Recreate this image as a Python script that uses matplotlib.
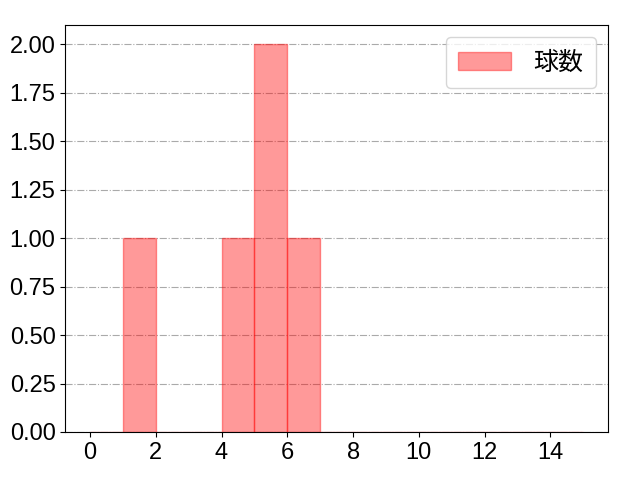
import matplotlib

matplotlib.use("Agg")
import matplotlib.pyplot as plt

plt.rcParams["font.family"] = ["Liberation Sans", "Noto Sans CJK JP", "DejaVu Sans"]
plt.rcParams["font.size"] = 17

# pitch-count values (one entry per observation)
values = [1, 4, 5, 5, 6]
bins = list(range(0, 16))
label = "球数"

fig, ax = plt.subplots(figsize=(6.4, 4.8), dpi=100)
fig.subplots_adjust(left=0.102, right=0.95, top=0.948, bottom=0.1)
ax.hist(values, bins=bins, color="red", alpha=0.4, edgecolor="red", label=label)
ax.set_xticks(range(0, 16, 2))
ax.set_yticks([0, 0.25, 0.5, 0.75, 1.0, 1.25, 1.5, 1.75, 2.0])
ax.yaxis.set_major_formatter(matplotlib.ticker.FormatStrFormatter("%.2f"))
ax.grid(axis="y", linestyle="-.", color="#aaaaaa")
ax.set_axisbelow(True)
ax.legend(loc="upper right", prop={"family": ["Noto Sans CJK JP"], "size": 18},
          handlelength=2.1, handletextpad=0.9, borderpad=0.5)
fig.savefig("out.png")
